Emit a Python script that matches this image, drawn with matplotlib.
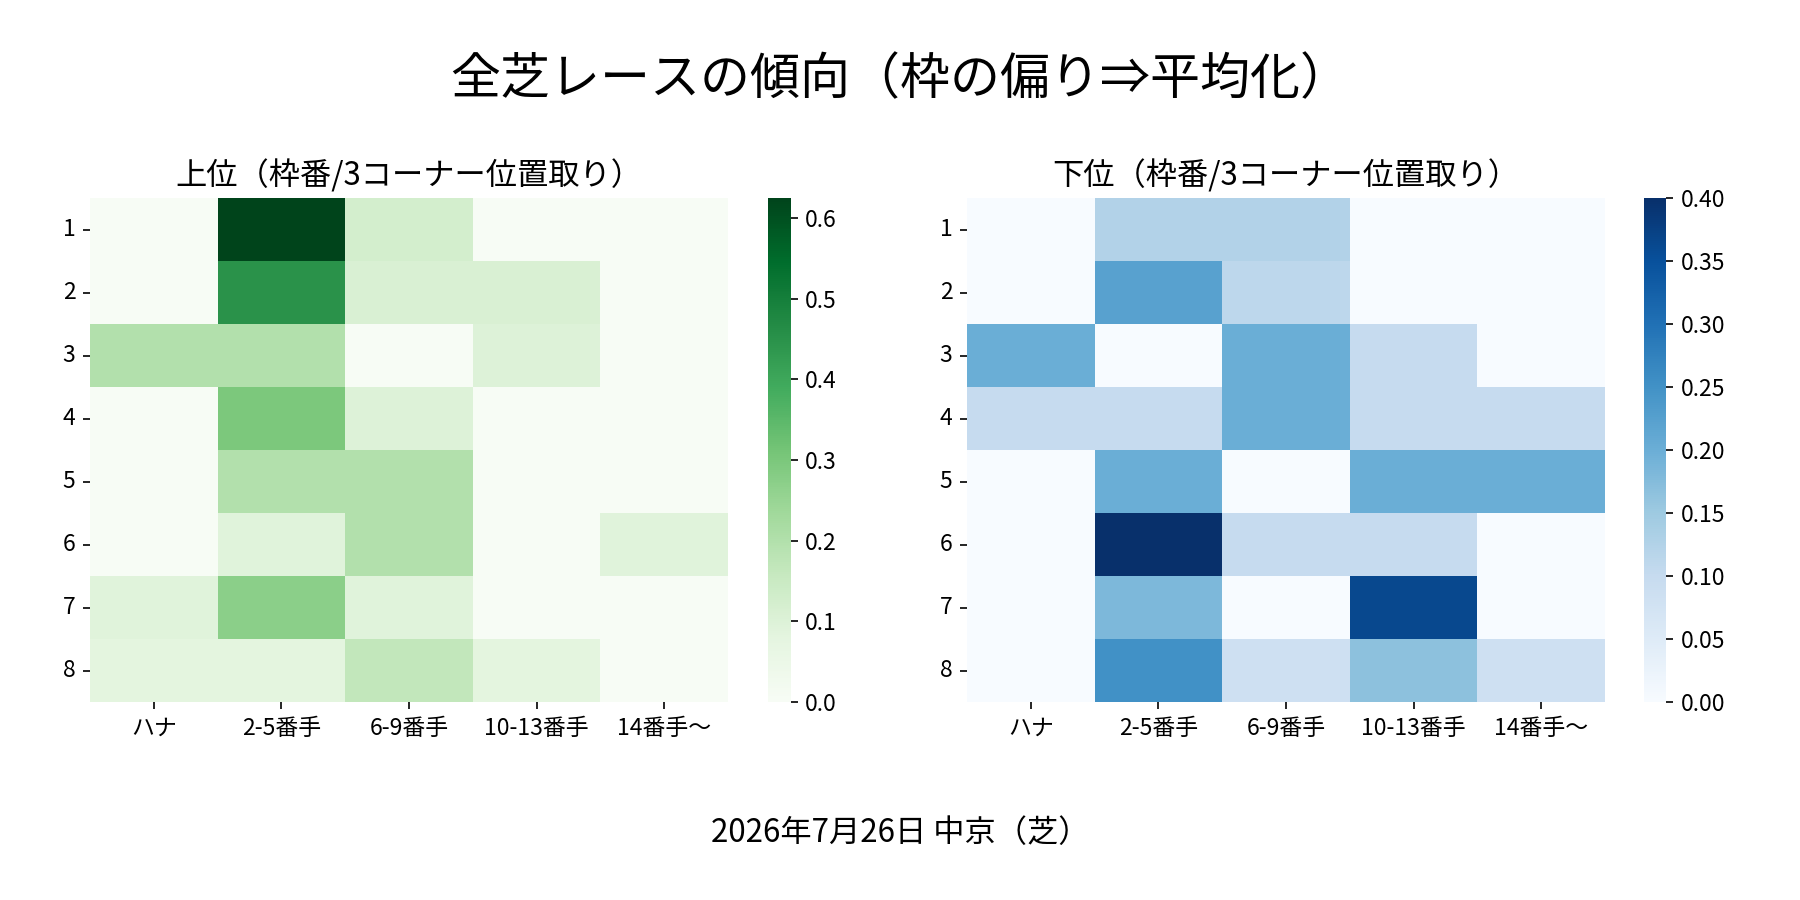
import matplotlib
matplotlib.use("Agg")

import matplotlib.pyplot as plt
import seaborn as sns
import pandas as pd

plt.rcParams['font.family'] = ['Noto Sans CJK JP', 'DejaVu Sans']

waku = ["1", "2", "3", "4", "5", "6", "7", "8"]
positions = ["ハナ", "2-5番手", "6-9番手", "10-13番手", "14番手〜"]

# 上位: 枠番ごとの3コーナー位置取りの割合
top_vals = [
    [0.0, 0.625, 0.125, 0.0, 0.0],
    [0.0, 0.45, 0.111, 0.111, 0.0],
    [0.2, 0.2, 0.0, 0.1, 0.0],
    [0.0, 0.3, 0.1, 0.0, 0.0],
    [0.0, 0.2, 0.2, 0.0, 0.0],
    [0.0, 0.091, 0.2, 0.0, 0.091],
    [0.091, 0.273, 0.091, 0.0, 0.0],
    [0.083, 0.083, 0.167, 0.083, 0.0],
]

# 下位
bottom_vals = [
    [0.0, 0.125, 0.125, 0.0, 0.0],
    [0.0, 0.222, 0.111, 0.0, 0.0],
    [0.2, 0.0, 0.2, 0.1, 0.0],
    [0.1, 0.1, 0.2, 0.1, 0.1],
    [0.0, 0.2, 0.0, 0.2, 0.2],
    [0.0, 0.4, 0.1, 0.1, 0.0],
    [0.0, 0.182, 0.0, 0.364, 0.0],
    [0.0, 0.25, 0.083, 0.167, 0.083],
]

top_df = pd.DataFrame(top_vals, index=waku, columns=positions)
bottom_df = pd.DataFrame(bottom_vals, index=waku, columns=positions)

fig = plt.figure(figsize=(12, 6), dpi=150)
ax1 = fig.add_axes([0.05, 0.22, 0.3544, 0.56])
cax1 = fig.add_axes([0.4267, 0.22, 0.0125, 0.56])
ax2 = fig.add_axes([0.5372, 0.22, 0.3544, 0.56])
cax2 = fig.add_axes([0.9133, 0.22, 0.0125, 0.56])

sns.heatmap(top_df, cmap="Greens", ax=ax1, cbar_ax=cax1)
sns.heatmap(bottom_df, cmap="Blues", ax=ax2, cbar_ax=cax2)

for ax, title in [(ax1, "上位（枠番/3コーナー位置取り）"), (ax2, "下位（枠番/3コーナー位置取り）")]:
    ax.set_title(title, fontsize=15)
    ax.set_xlabel("")
    ax.set_ylabel("")
    ax.tick_params(axis="both", labelsize=11)
    ax.set_yticklabels(ax.get_yticklabels(), rotation=0)
    ax.set_xticklabels(ax.get_xticklabels(), rotation=0)

for cax in (cax1, cax2):
    cax.tick_params(labelsize=11)

fig.suptitle("全芝レースの傾向（枠の偏り⇒平均化）", fontsize=24, y=0.94)
fig.text(0.5, 0.074, "2026年7月26日 中京（芝）", ha="center", va="center", fontsize=15)

fig.savefig("out.png", dpi=150)
